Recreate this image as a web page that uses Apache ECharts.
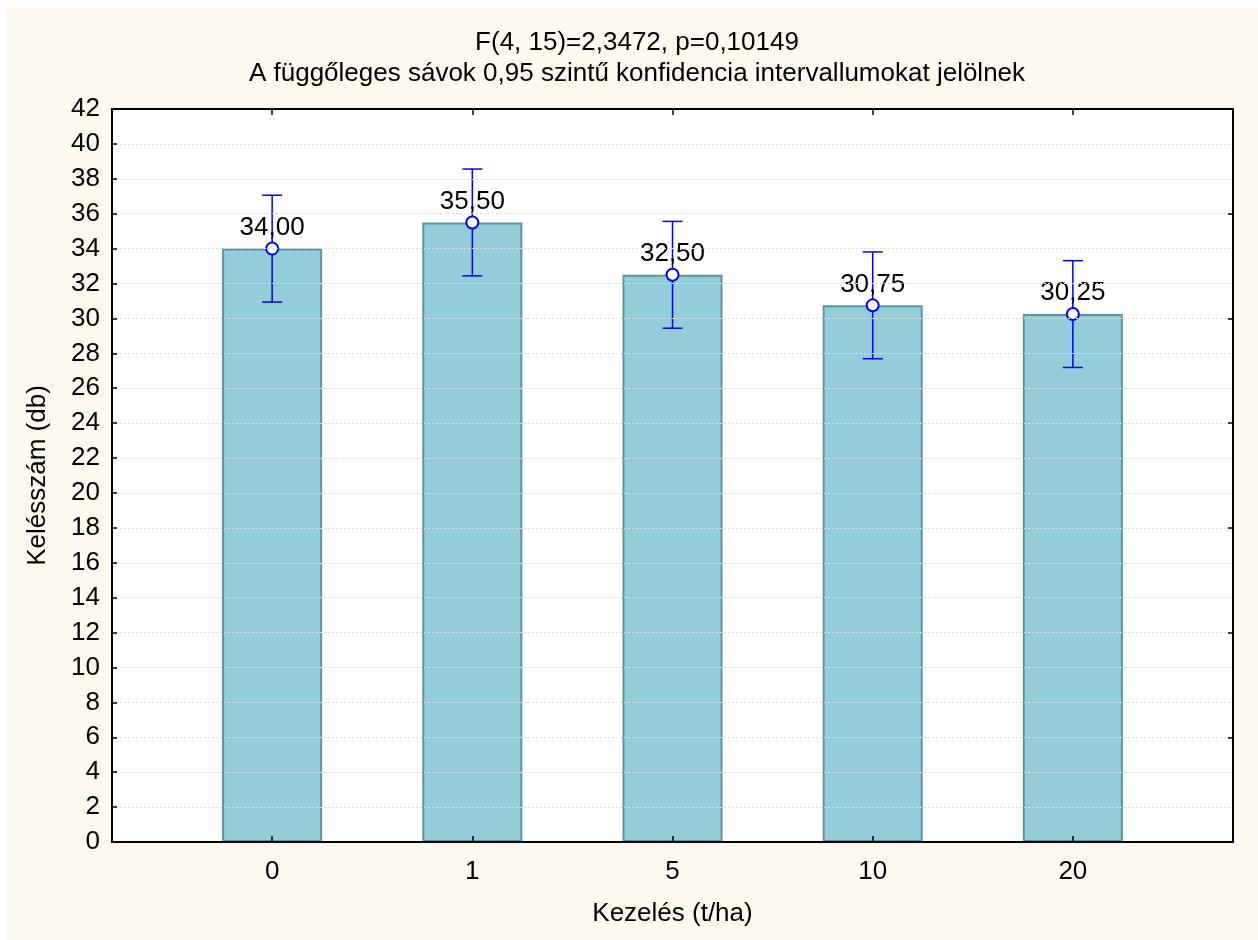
<!DOCTYPE html>
<html>
<head>
<meta charset="utf-8">
<script src="https://cdn.jsdelivr.net/npm/echarts@6/dist/echarts.min.js"></script>
<style>
  html, body { margin: 0; padding: 0; background: #ffffff; }
  #chart { width: 1258px; height: 940px; }
</style>
</head>
<body>
<div id="chart"></div>
<script>
// Treatment levels (t/ha) and group statistics
const categories = ['0', '1', '5', '10', '20'];
const means = [34.00, 35.50, 32.50, 30.75, 30.25];
const ciLower = [30.94, 32.44, 29.44, 27.69, 27.19];
const ciUpper = [37.06, 38.56, 35.56, 33.81, 33.31];
const yTicks = { min: 0, max: 42, step: 2 };

const FONT = '"Liberation Sans", Arial, sans-serif';
const FS = 26;
const idx = categories.map((_, i) => i);

const chart = echarts.init(document.getElementById('chart'), null, { renderer: 'canvas' });

const fmt = v => v.toFixed(2).replace('.', ',');

const frameAxis = {
  axisLine: { show: true, onZero: false, lineStyle: { color: '#000', width: 2 } },
  splitLine: { show: false },
  z: 6
};

chart.setOption({
  backgroundColor: '#fdf9ee',
  animation: false,
  title: {
    text: 'F(4, 15)=2,3472, p=0,10149\nA függőleges sávok 0,95 szintű konfidencia intervallumokat jelölnek',
    left: 632, textAlign: 'center',
    top: 22,
    textStyle: { fontFamily: FONT, fontSize: FS, fontWeight: 'normal', color: '#000', lineHeight: 31 }
  },
  graphic: [
    { type: 'rect', shape: { x: 0, y: 0, width: 1258, height: 7 }, style: { fill: '#ffffff' }, silent: true },
    { type: 'rect', shape: { x: 0, y: 0, width: 7, height: 940 }, style: { fill: '#ffffff' }, silent: true }
  ],
  grid: {
    left: 112, top: 109, right: 25, bottom: 98,
    show: true, backgroundColor: '#ffffff', borderColor: '#000', borderWidth: 2
  },
  xAxis: [
    Object.assign({}, frameAxis, {
      type: 'value', min: -0.8, max: 4.8, position: 'bottom',
      name: 'Kezelés (t/ha)', nameLocation: 'middle', nameGap: 59,
      nameTextStyle: { fontFamily: FONT, fontSize: FS, color: '#000' },
      axisTick: { show: true, inside: true, length: 6, customValues: idx, lineStyle: { color: '#000', width: 1.5 } },
      axisLabel: {
        customValues: idx, margin: 17,
        fontFamily: FONT, fontSize: FS, color: '#000',
        formatter: v => categories[Math.round(v)]
      }
    }),
    Object.assign({}, frameAxis, {
      type: 'value', min: -0.8, max: 4.8, position: 'top',
      axisTick: { show: true, inside: true, length: 6, customValues: idx, lineStyle: { color: '#000', width: 1.5 } },
      axisLabel: { show: false }
    })
  ],
  yAxis: [
    Object.assign({}, frameAxis, {
      type: 'value', min: yTicks.min, max: yTicks.max, interval: yTicks.step, position: 'left',
      name: 'Kelésszám (db)', nameLocation: 'middle', nameGap: 61, nameRotate: 90,
      nameTextStyle: { fontFamily: FONT, fontSize: FS, color: '#000' },
      axisTick: { show: true, inside: true, length: 5, lineStyle: { color: '#000', width: 1.5 } },
      axisLabel: { margin: 12, fontFamily: FONT, fontSize: FS, color: '#000' },
      splitLine: { show: true, lineStyle: { color: '#dcdcdc', type: [2, 2], width: 1 } }
    }),
    Object.assign({}, frameAxis, {
      type: 'value', min: yTicks.min, max: yTicks.max, interval: 6, position: 'right',
      axisTick: { show: true, inside: true, length: 5, lineStyle: { color: '#000', width: 1.5 } },
      axisLabel: { show: false }
    })
  ],
  series: [
    {
      type: 'bar',
      xAxisIndex: 0, yAxisIndex: 0,
      barWidth: 100,
      data: means.map((m, i) => [i, m]),
      itemStyle: { color: '#93cdda', borderColor: '#5a949f', borderWidth: 2 },
      z: 2
    },
    {
      type: 'custom',
      xAxisIndex: 0, yAxisIndex: 0,
      data: idx.map(i => [i, ciLower[i], ciUpper[i]]),
      renderItem: (params, api) => {
        const x = api.value(0);
        const lo = api.coord([x, api.value(1)]);
        const hi = api.coord([x, api.value(2)]);
        const half = 10;
        const style = { stroke: '#0000ff', lineWidth: 1.5 };
        return {
          type: 'group',
          children: [
            { type: 'line', shape: { x1: lo[0], y1: lo[1], x2: hi[0], y2: hi[1] }, style },
            { type: 'line', shape: { x1: lo[0] - half, y1: lo[1], x2: lo[0] + half, y2: lo[1] }, style },
            { type: 'line', shape: { x1: hi[0] - half, y1: hi[1], x2: hi[0] + half, y2: hi[1] }, style }
          ]
        };
      },
      z: 3
    },
    {
      type: 'scatter',
      xAxisIndex: 0, yAxisIndex: 0,
      data: means.map((m, i) => [i, m]),
      symbol: 'circle', symbolSize: 12,
      itemStyle: { color: '#ffffff', borderColor: '#0000ff', borderWidth: 2, opacity: 1 },
      label: {
        show: true, position: 'top', distance: 1,
        fontFamily: FONT, fontSize: FS, color: '#000',
        formatter: p => fmt(p.value[1])
      },
      z: 4
    }
  ]
});
</script>
</body>
</html>
